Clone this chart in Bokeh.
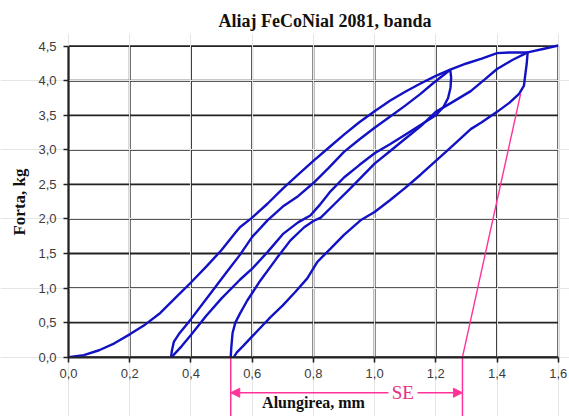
from bokeh.plotting import figure
from bokeh.models import (FixedTicker, CustomJSTickFormatter, Range1d, Arrow,
                          NormalHead, Label, LinearAxis)
from bokeh.embed import file_html
from bokeh.resources import INLINE

# ---- axis ticks ----
x_ticks = [0.0, 0.2, 0.4, 0.6, 0.8, 1.0, 1.2, 1.4, 1.6]
y_ticks = [0.0, 0.5, 1.0, 1.5, 2.0, 2.5, 3.0, 3.5, 4.0, 4.5]

# ---- cycle 1 loading ----
load1_x = [0.00, 0.05, 0.10, 0.15, 0.20, 0.25, 0.30, 0.35, 0.40, 0.45, 0.50, 0.545, 0.56,
           0.60, 0.65, 0.70, 0.75, 0.80, 0.85, 0.90, 0.95, 1.00, 1.05, 1.10, 1.15, 1.20, 1.247]
load1_y = [0.00, 0.03, 0.10, 0.20, 0.33, 0.47, 0.64, 0.86, 1.08, 1.31, 1.55, 1.80, 1.88,
           2.02, 2.22, 2.44, 2.64, 2.84, 3.03, 3.22, 3.40, 3.56, 3.71, 3.84, 3.96, 4.07, 4.16]

# ---- cycle 1 unloading ----
unload1_x = [1.247, 1.250, 1.248, 1.240, 1.225, 1.20, 1.15, 1.10, 1.05, 1.00, 0.95, 0.90, 0.856,
             0.82, 0.79, 0.75, 0.70, 0.65, 0.60, 0.56, 0.50, 0.45, 0.40, 0.37, 0.345, 0.338]
unload1_y = [4.16, 4.05, 3.90, 3.75, 3.62, 3.50, 3.36, 3.22, 3.08, 2.95, 2.78, 2.60, 2.40,
             2.20, 2.05, 1.95, 1.78, 1.52, 1.28, 1.12, 0.85, 0.60, 0.32, 0.16, 0.04, 0.00]

# ---- cycle 2 loading ----
load2_x = [0.335, 0.338, 0.344, 0.36, 0.40, 0.46, 0.52, 0.56, 0.60, 0.65, 0.70, 0.75, 0.80,
           0.85, 0.90, 0.95, 1.00, 1.05, 1.10, 1.15, 1.19, 1.247, 1.30, 1.35, 1.40, 1.44, 1.48, 1.50]
load2_y = [0.00, 0.10, 0.22, 0.33, 0.55, 0.90, 1.25, 1.48, 1.74, 1.98, 2.18, 2.33, 2.52,
           2.74, 2.97, 3.15, 3.32, 3.48, 3.64, 3.81, 3.96, 4.16, 4.25, 4.32, 4.40, 4.41, 4.41, 4.41]

# ---- cycle 2 unloading ----
unload2_x = [1.500, 1.497, 1.492, 1.488, 1.472, 1.44, 1.40, 1.35, 1.314, 1.25, 1.20, 1.15, 1.10,
             1.05, 1.00, 0.954, 0.90, 0.856, 0.813, 0.78, 0.74, 0.70, 0.66, 0.63, 0.60, 0.57, 0.55, 0.54]
unload2_y = [4.41, 4.25, 4.08, 3.93, 3.81, 3.68, 3.55, 3.40, 3.30, 3.04, 2.84, 2.64, 2.45,
             2.27, 2.10, 1.98, 1.77, 1.57, 1.38, 1.14, 0.94, 0.75, 0.58, 0.44, 0.30, 0.16, 0.07, 0.00]

# ---- cycle 3 loading ----
load3_x = [0.530, 0.532, 0.536, 0.545, 0.56, 0.584, 0.627, 0.68, 0.725, 0.77, 0.80, 0.824, 0.87,
           0.92, 0.96, 1.00, 1.05, 1.10, 1.15, 1.20, 1.25, 1.314, 1.36, 1.40, 1.45, 1.50, 1.55, 1.60]
load3_y = [0.00, 0.15, 0.35, 0.50, 0.63, 0.82, 1.11, 1.43, 1.69, 1.88, 1.97, 2.02, 2.22,
           2.44, 2.62, 2.80, 2.98, 3.16, 3.34, 3.55, 3.68, 3.85, 4.02, 4.17, 4.30, 4.41, 4.46, 4.51]

# ---- superelastic (SE) marker ----
se_line_x = [1.287, 1.477]
se_line_y = [0.0, 3.81]
se_start = 0.53
se_end = 1.287
se_label = "SE"

BLUE = "#1212c4"
PINK = "#ff3399"
GRID = "#222222"

x_lo, x_hi = x_ticks[0], x_ticks[-1]
y_lo, y_hi = y_ticks[0], y_ticks[-1]

# frame covers the axis areas too, so the SE dimension line under the axis can be drawn;
# both axes are pinned at 0 with fixed_location
X_START, X_END = -0.2222, 1.6367
Y_START, Y_END = -0.859, 4.684
p = figure(width=569, height=416, x_range=Range1d(X_START, X_END),
           y_range=Range1d(Y_START, Y_END),
           output_backend="svg", toolbar_location=None,
           x_axis_location=None, y_axis_location=None,
           min_border_left=0, min_border_right=0, min_border_top=33, min_border_bottom=0)

p.title.text = "Aliaj FeCoNial 2081, banda"
p.title.align = "left"
p.title.offset = 218
p.title.standoff = 5
p.title.text_font = "Liberation Serif"
p.title.text_font_style = "bold"
p.title.text_font_size = "18px"
p.title.text_color = "#111111"

fmt = CustomJSTickFormatter(code="return tick.toFixed(1).replace('.', ',');")
xaxis = LinearAxis(fixed_location=0, bounds=(x_lo, x_hi),
                   ticker=FixedTicker(ticks=x_ticks), formatter=fmt)
yaxis = LinearAxis(fixed_location=0, bounds=(y_lo, y_hi),
                   ticker=FixedTicker(ticks=y_ticks), formatter=fmt)
p.add_layout(xaxis, "below")
p.add_layout(yaxis, "left")

for ax in (xaxis, yaxis):
    ax.major_label_text_font = "Liberation Sans"
    ax.major_label_text_font_size = "13px"
    ax.major_label_text_color = "#3c3c3c"
    ax.axis_line_color = GRID
    ax.axis_line_width = 1.8
    ax.major_tick_line_color = GRID
    ax.major_tick_line_width = 1.6
    ax.major_tick_out = 5
    ax.major_tick_in = 0
    ax.minor_tick_line_color = None
    ax.major_label_standoff = 7
    ax.axis_label_text_font = "Liberation Serif"
    ax.axis_label_text_font_style = "bold"
    ax.axis_label_text_font_size = "17px"
    ax.axis_label_text_color = "#111111"

yaxis.axis_label = "Forta, kg"
yaxis.axis_label_standoff = 6
xaxis.axis_label = "Alungirea, mm"
xaxis.axis_label_standoff = 12
xaxis.axis_label_text_font_size = "16px"

p.outline_line_color = None
p.background_fill_color = "white"
p.border_fill_color = "white"

# grid lines (including the frame edges) from the tick lists
p.segment(x0=x_ticks, y0=[y_lo] * len(x_ticks), x1=x_ticks, y1=[y_hi] * len(x_ticks),
          line_color=GRID, line_width=1.8, level="underlay")
p.segment(x0=[x_lo] * len(y_ticks), y0=y_ticks, x1=[x_hi] * len(y_ticks), y1=y_ticks,
          line_color=GRID, line_width=1.8, level="underlay")

for xs, ys in [(load1_x, load1_y), (unload1_x, unload1_y), (load2_x, load2_y),
               (unload2_x, unload2_y), (load3_x, load3_y)]:
    p.line(xs, ys, line_color=BLUE, line_width=2.4)

p.line(se_line_x, se_line_y, line_color=PINK, line_width=1.4)

# SE dimension annotation below the axis
arrow_y = -0.515
p.segment(x0=[se_start, se_end], y0=[0, 0], x1=[se_start, se_end], y1=[Y_START, Y_START],
          line_color=PINK, line_width=1.5)
p.add_layout(Arrow(end=NormalHead(size=9, fill_color=PINK, line_color=PINK),
                   x_start=1.045, y_start=arrow_y, x_end=se_start, y_end=arrow_y,
                   line_color=PINK, line_width=1.5))
p.add_layout(Arrow(end=NormalHead(size=9, fill_color=PINK, line_color=PINK),
                   x_start=1.14, y_start=arrow_y, x_end=se_end, y_end=arrow_y,
                   line_color=PINK, line_width=1.5))
p.add_layout(Label(x=1.092, y=arrow_y, text=se_label, text_align="center",
                   text_baseline="middle", text_font="Liberation Serif",
                   text_font_size="19px", text_color="#e8307f"))

open("out.html", "w").write(file_html(p, INLINE))
